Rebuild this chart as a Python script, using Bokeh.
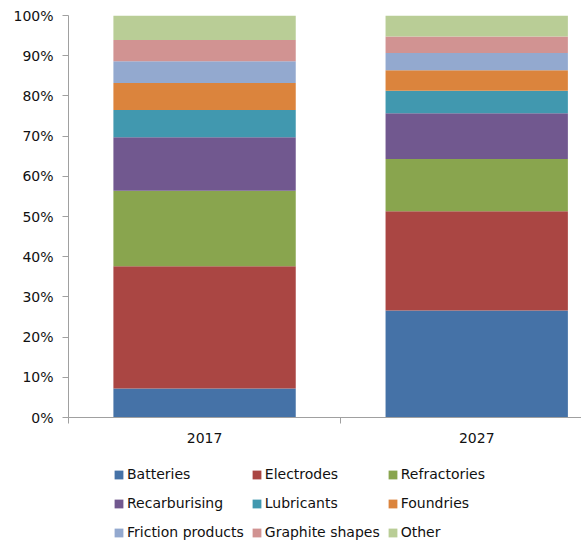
from bokeh.plotting import figure
from bokeh.layouts import column
from bokeh.models import ColumnDataSource, FixedTicker, SingleIntervalTicker, PrintfTickFormatter, Legend, LegendItem, Range1d
from bokeh.embed import file_html
from bokeh.resources import INLINE

years = ["2017", "2027"]
segments = ["Batteries", "Electrodes", "Refractories", "Recarburising", "Lubricants",
            "Foundries", "Friction products", "Graphite shapes", "Other"]
batteries = [7.2, 26.6]
electrodes = [30.4, 24.7]
refractories = [18.8, 13.0]
recarburising = [13.3, 11.4]
lubricants = [6.8, 5.6]
foundries = [6.7, 5.1]
friction_products = [5.4, 4.3]
graphite_shapes = [5.3, 4.1]
other = [6.1, 5.2]
colors = ["#4572A7", "#AA4643", "#89A54E", "#71588F", "#4198AF",
          "#DB843D", "#93A9CF", "#D19392", "#B9CD96"]

series = [batteries, electrodes, refractories, recarburising, lubricants,
          foundries, friction_products, graphite_shapes, other]
xs = [i + 0.5 for i in range(len(years))]
data = {"x": xs}
for name, vals in zip(segments, series):
    data[name] = vals
source = ColumnDataSource(data)

FONT = "DejaVu Sans"
TXT = "#111111"
AX = "#a0a0a0"
FS = "14px"

p = figure(width=581, height=452, output_backend="svg", toolbar_location=None,
           x_range=Range1d(0, 1.885), y_range=Range1d(0, 100),
           min_border_left=68, min_border_right=0, min_border_top=15, min_border_bottom=35)
p.outline_line_color = None
p.xgrid.visible = False
p.ygrid.visible = False

rs = p.vbar_stack(segments, x="x", width=0.67, source=source, color=colors, line_color=None)

# y axis
p.yaxis.ticker = SingleIntervalTicker(interval=10, num_minor_ticks=0)
p.yaxis.formatter = PrintfTickFormatter(format="%d%%")
p.yaxis.axis_line_color = AX
p.yaxis.major_tick_line_color = AX
p.yaxis.major_tick_out = 6
p.yaxis.major_tick_in = 0
p.yaxis.minor_tick_line_color = None
p.yaxis.major_label_standoff = 9
p.yaxis.major_label_text_font = FONT
p.yaxis.major_label_text_font_size = FS
p.yaxis.major_label_text_color = TXT

# x axis
p.xaxis.ticker = FixedTicker(ticks=xs, minor_ticks=[float(i) for i in range(len(years) + 1)])
p.xaxis.major_label_overrides = {x: y for x, y in zip(xs, years)}
p.xaxis.axis_line_color = AX
p.xaxis.major_tick_line_color = None
p.xaxis.major_tick_out = 6
p.xaxis.major_tick_in = 0
p.xaxis.minor_tick_line_color = AX
p.xaxis.minor_tick_out = 6
p.xaxis.minor_tick_in = 0
p.xaxis.major_label_standoff = 9
p.xaxis.major_label_text_font = FONT
p.xaxis.major_label_text_font_size = FS
p.xaxis.major_label_text_color = TXT

# legend panel (separate figure below the chart; its bars lie outside its view)
p2 = figure(width=581, height=91, output_backend="svg", toolbar_location=None,
            x_range=Range1d(100, 101), y_range=Range1d(1000, 1001),
            x_axis_type=None, y_axis_type=None,
            min_border_left=0, min_border_right=0, min_border_top=0, min_border_bottom=0)
p2.outline_line_color = None
p2.xgrid.visible = False
p2.ygrid.visible = False
rs2 = p2.vbar_stack(segments, x="x", width=0.67, source=source, color=colors, line_color=None)

items = [LegendItem(label=name, renderers=[r]) for name, r in zip(segments, rs2)]
legend = Legend(items=items, ncols=3, location=(45, 0), orientation="horizontal",
                label_text_font=FONT, label_text_font_size=FS, label_text_color=TXT,
                glyph_width=11, glyph_height=11, label_standoff=3,
                label_height=22, spacing=7, padding=0, margin=0,
                border_line_color=None, background_fill_alpha=0)
p2.add_layout(legend, "center")

open("out.html", "w").write(file_html(column(p, p2, spacing=0), INLINE))
